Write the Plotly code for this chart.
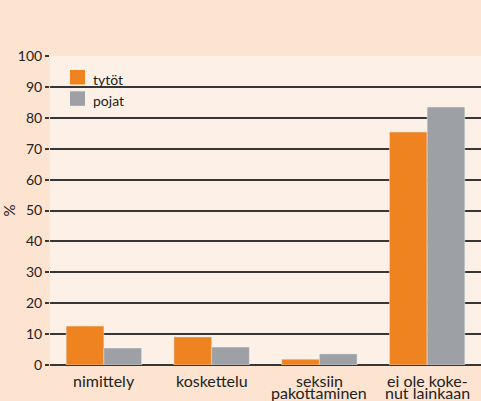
import plotly.graph_objects as go

categories = ["nimittely", "koskettelu", "seksiin pakottaminen", "ei ole kokenut lainkaan"]
category_labels = [["nimittely"], ["koskettelu"], ["seksiin", "pakottaminen"], ["ei ole koke-", "nut lainkaan"]]
series_names = ["tytöt", "pojat"]
tytot = [12.6, 9.1, 1.9, 75.4]
pojat = [5.5, 5.8, 3.6, 83.5]
y_ticks = [0, 10, 20, 30, 40, 50, 60, 70, 80, 90, 100]

ORANGE = "#ee8320"
GRAY = "#9da1a5"
PAPER = "#fde4d1"
PLOT = "#fdf1e7"
GRID = "#363636"
TEXT = "#222222"
FONT = "Lato, 'DejaVu Sans', sans-serif"

W, H = 481, 401
ML, MR, MT, MB = 50, 0, 56, 36
PW, PH = W - ML - MR, H - MT - MB


def px(x):
    return (x - ML) / PW


def py(y):
    return (H - MB - y) / PH


fig = go.Figure()
fig.add_trace(go.Bar(x=categories, y=tytot, name=series_names[0], marker=dict(color=ORANGE)))
fig.add_trace(go.Bar(x=categories, y=pojat, name=series_names[1], marker=dict(color=GRAY)))

annotations = []
for cat, lines in zip(categories, category_labels):
    for i, line in enumerate(lines):
        annotations.append(dict(
            x=cat, y=0, xref="x", yref="y", text=line, showarrow=False,
            xanchor="center", yanchor="top", yshift=-5 - 12 * i, borderpad=0,
            font=dict(family=FONT, size=16, color=TEXT)))

# manual legend (squares + labels)
shapes = []
for i, (name, col) in enumerate(zip(series_names, [ORANGE, GRAY])):
    top = 70 + 21.3 * i
    shapes.append(dict(type="rect", xref="paper", yref="paper",
                       x0=px(70), x1=px(85), y0=py(top + 14.5), y1=py(top),
                       fillcolor=col, line=dict(width=0), layer="above"))
    annotations.append(dict(x=px(91), y=py(top + 9), xref="paper", yref="paper",
                            text=name, showarrow=False, xanchor="left", yanchor="middle",
                            font=dict(family=FONT, size=14, color=TEXT)))

fig.update_layout(
    width=W, height=H,
    margin=dict(l=ML, r=MR, t=MT, b=MB),
    paper_bgcolor=PAPER,
    plot_bgcolor=PLOT,
    barmode="group", bargap=0.3, bargroupgap=0,
    font=dict(family=FONT, size=14, color=TEXT),
    showlegend=False,
    shapes=shapes,
    annotations=annotations,
)
fig.update_xaxes(showticklabels=False, showgrid=False, zeroline=False, showline=False,
                 ticks="", fixedrange=True)
fig.update_yaxes(range=[0, 100], tickvals=y_ticks, showgrid=True, gridcolor=GRID, gridwidth=1.5,
                 zeroline=True, zerolinecolor=GRID, zerolinewidth=1.5,
                 ticks="outside", ticklen=4, tickcolor=GRID, tickwidth=1.5,
                 tickfont=dict(family=FONT, size=14, color=TEXT),
                 title=dict(text="%", font=dict(family=FONT, size=15, color=TEXT), standoff=1),
                 showline=False, fixedrange=True)

fig.write_html("out.html", config={"displayModeBar": False},
               post_script="document.body.style.margin='0';document.body.style.overflow='hidden';")
